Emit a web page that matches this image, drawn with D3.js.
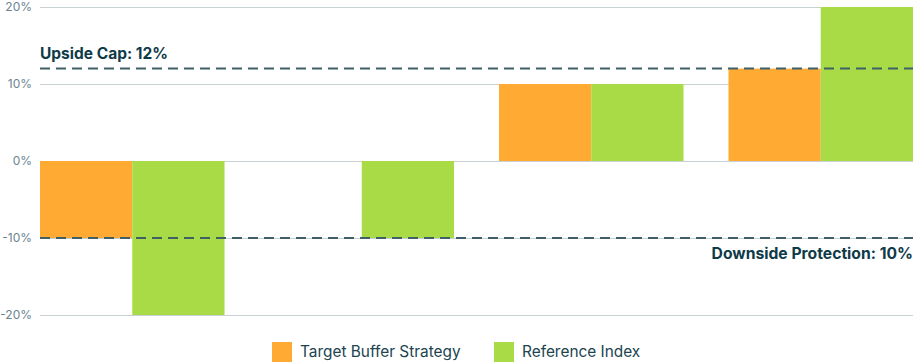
<!DOCTYPE html>
<html>
<head>
<meta charset="utf-8">
<script src="https://cdn.jsdelivr.net/npm/d3@7"></script>
<style>
  body { margin: 0; background: #fff; }
  svg { display: block; font-family: Inter, "Noto Sans", sans-serif; }
</style>
</head>
<body>
<script>
// chart data
var groups = ["A", "B", "C", "D"];
var seriesNames = ["Target Buffer Strategy", "Reference Index"];
var strategyValues = [-10, 0, 10, 12];
var indexValues = [-20, -10, 10, 20];
var yTicks = [20, 10, 0, -10, -20];
var capValue = 12;
var protectionValue = -10;

var width = 913, height = 364;
var colors = ["#FFAB33", "#A8DB46"];

var svg = d3.select("body").append("svg")
    .attr("width", width)
    .attr("height", height);

var x = d3.scaleBand()
    .domain(groups)
    .range([40, 913])
    .paddingInner(0.196)
    .paddingOuter(0);

var xSub = d3.scaleBand()
    .domain([0, 1])
    .range([0, x.bandwidth()]);

var y = d3.scaleLinear()
    .domain([-20, 20])
    .range([315, 7]);

// grid lines
svg.selectAll(".grid")
    .data(yTicks)
    .enter()
    .append("line")
    .attr("x1", 40)
    .attr("x2", width)
    .attr("y1", function(d) { return y(d) + 0.5; })
    .attr("y2", function(d) { return y(d) + 0.5; })
    .attr("stroke", "#c9d1d5")
    .attr("stroke-width", 1);

// tick labels
svg.selectAll(".tick-label")
    .data(yTicks)
    .enter()
    .append("text")
    .attr("x", 32)
    .attr("y", function(d) { return y(d) + 4; })
    .attr("text-anchor", "end")
    .attr("fill", "#6a8590")
    .attr("font-size", 12)
    .text(function(d) { return d + "%"; });

// bars
var rows = [];
groups.forEach(function(g, i) {
  rows.push({group: g, s: 0, v: strategyValues[i]});
  rows.push({group: g, s: 1, v: indexValues[i]});
});

svg.selectAll(".bar")
    .data(rows.filter(function(d) { return d.v !== 0; }))
    .enter()
    .append("rect")
    .attr("x", function(d) { return x(d.group) + xSub(d.s); })
    .attr("width", xSub.bandwidth())
    .attr("y", function(d) { return y(Math.max(0, d.v)); })
    .attr("height", function(d) { return Math.abs(y(d.v) - y(0)); })
    .attr("fill", function(d) { return colors[d.s]; });

// reference lines
[capValue, protectionValue].forEach(function(v) {
  svg.append("line")
      .attr("x1", 40)
      .attr("x2", width)
      .attr("y1", y(v))
      .attr("y2", y(v))
      .attr("stroke", "#3f5f69")
      .attr("stroke-width", 2)
      .attr("stroke-dasharray", "10,6");
});

svg.append("text")
    .attr("x", 40)
    .attr("y", y(capValue) - 10)
    .attr("fill", "#0f3a48")
    .attr("font-size", 15.5)
    .attr("font-weight", 700)
    .text("Upside Cap: " + capValue + "%");

svg.append("text")
    .attr("x", width)
    .attr("y", y(protectionValue) + 21)
    .attr("text-anchor", "end")
    .attr("fill", "#0f3a48")
    .attr("font-size", 15.7)
    .attr("font-weight", 700)
    .text("Downside Protection: " + Math.abs(protectionValue) + "%");

// legend
var legendX = [272, 494];
var legend = svg.selectAll(".legend")
    .data(seriesNames)
    .enter()
    .append("g")
    .attr("transform", function(d, i) { return "translate(" + legendX[i] + ",342)"; });

legend.append("rect")
    .attr("width", 20)
    .attr("height", 20)
    .attr("fill", function(d, i) { return colors[i]; });

legend.append("text")
    .attr("x", 28)
    .attr("y", 15)
    .attr("fill", "#20444f")
    .attr("font-size", 15.4)
    .text(function(d) { return d; });
</script>
</body>
</html>
